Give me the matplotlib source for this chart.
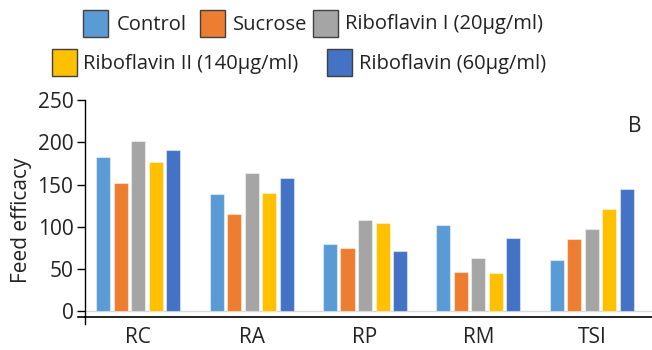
import matplotlib
matplotlib.use("Agg")
import matplotlib.pyplot as plt
from matplotlib.patches import Rectangle
from matplotlib.lines import Line2D
import numpy as np

plt.rcParams['font.family'] = ['Open Sans', 'DejaVu Sans']

categories = ["RC", "RA", "RP", "RM", "TSI"]
series_names = ["Control", "Sucrose", "Riboflavin I (20\u03bcg/ml)",
                "Riboflavin II (140\u03bcg/ml)", "Riboflavin (60\u03bcg/ml)"]
control = [182, 139, 80, 102, 61]
sucrose = [152, 115, 75, 46, 85]
ribo_i = [201, 164, 108, 63, 97]
ribo_ii = [177, 140, 105, 45, 121]
ribo_60 = [191, 158, 71, 87, 145]
series = [control, sucrose, ribo_i, ribo_ii, ribo_60]
colors = ["#5B9BD5", "#ED7D31", "#A5A5A5", "#FFC000", "#4472C4"]
yticks = [0, 50, 100, 150, 200, 250]

W, H = 652, 350
fig = plt.figure(figsize=(W / 100, H / 100), dpi=100)
ax_left, ax_right = 84.5, 652
ax_top, ax_bot = 100, 317
ax = fig.add_axes([ax_left / W, 1 - ax_bot / H, (ax_right - ax_left) / W, (ax_bot - ax_top) / H])

x = np.arange(len(categories))
step = 17.5 / 113.3
bw = 14 / 113.3
for i, (vals, c) in enumerate(zip(series, colors)):
    ax.bar(x + (i - 2) * step, vals, width=bw, color=c, edgecolor=(1, 1, 1, 0.45),
           linewidth=0.8, zorder=3)

ax.set_xlim(-0.473, 4.53)
ax.set_ylim(-6.7, 250)
ax.axhline(0, color="#d9d9d9", lw=1.0, zorder=2)

for s in ["top", "right"]:
    ax.spines[s].set_visible(False)
ax.spines["left"].set_bounds(-6.7, 250)
ax.spines["left"].set_linewidth(1.0)
ax.spines["bottom"].set_linewidth(1.2)
ax.spines["left"].set_color("black")
ax.spines["bottom"].set_color("black")
# small extensions where axes cross
ax.add_line(Line2D([0, 0], [0, -0.03], transform=ax.transAxes, color="black", lw=1.0, clip_on=False))
ax.add_line(Line2D([0, -0.011], [0, 0], transform=ax.transAxes, color="black", lw=1.2, clip_on=False))

ax.set_yticks(yticks)
ax.set_yticklabels([str(v) for v in yticks], fontsize=15, color="#222222")
ax.tick_params(axis="y", length=6, width=1.0, pad=2)
ax.set_xticks(x)
ax.set_xticklabels(categories, fontsize=15, color="#222222")
ax.tick_params(axis="x", length=0, pad=7)
ax.set_ylabel("Feed efficacy", fontsize=15, color="#222222")
ax.yaxis.set_label_coords(-0.092, 0.447)

ax.text(0.97, 0.877, "B", transform=ax.transAxes, fontsize=15, color="#222222",
        ha="center", va="center")

# legend (manual, two rows)
entries = [
    (83.3, 10, 116.7),
    (200, 10, 232.7),
    (312.7, 10, 345),
    (51.7, 49.3, 83.3),
    (326.7, 49.3, 359.3),
]
for (px, py, tx), name, c in zip(entries, series_names, colors):
    fig.patches.append(Rectangle((px / W, 1 - (py + 26.5) / H), 25 / W, 26.5 / H,
                                 transform=fig.transFigure, facecolor=c,
                                 edgecolor="#404040", linewidth=1.0))
    fig.text(tx / W, 1 - (py + 14.5) / H, name, fontsize=14.5, color="#222222",
             ha="left", va="center")

fig.savefig("out.png", dpi=100)
